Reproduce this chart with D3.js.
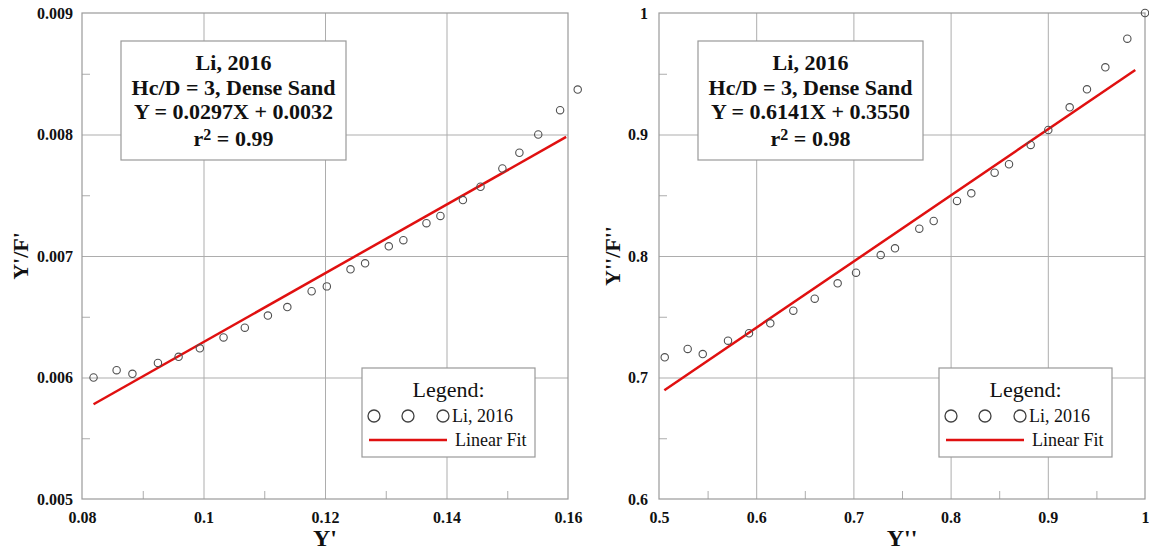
<!DOCTYPE html>
<html>
<head>
<meta charset="utf-8">
<script src="https://cdn.jsdelivr.net/npm/d3@7/dist/d3.min.js"></script>
<style>
body { margin: 0; background: #fff; }
text { font-family: "Liberation Serif", "Times New Roman", serif; fill: #111; }
</style>
</head>
<body>
<div id="vis"></div>
<script>
// left panel: Y' vs Y'/F'
const left_x = [0.0819, 0.0857, 0.0883, 0.0925, 0.0959, 0.0994, 0.1033, 0.1068, 0.1106, 0.1138,
                0.1178, 0.1203, 0.1242, 0.1266, 0.1305, 0.1329, 0.1367, 0.1390, 0.1427, 0.1456,
                0.1492, 0.1520, 0.1551, 0.1587, 0.1616];
const left_y = [0.00600, 0.00606, 0.00603, 0.00612, 0.00617, 0.00624, 0.00633, 0.00641, 0.00651, 0.00658,
                0.00671, 0.00675, 0.00689, 0.00694, 0.00708, 0.00713, 0.00727, 0.00733, 0.00746, 0.00757,
                0.00772, 0.00785, 0.00800, 0.00820, 0.00837];
const left_fit_x = [0.0819, 0.1597];
const left_fit_y = [0.00578, 0.00798];
const left_x_ticks = [0.08, 0.10, 0.12, 0.14, 0.16];
const left_x_labels = ["0.08", "0.1", "0.12", "0.14", "0.16"];
const left_y_ticks = [0.005, 0.006, 0.007, 0.008, 0.009];
const left_y_labels = ["0.005", "0.006", "0.007", "0.008", "0.009"];
const left_note = ["Li, 2016", "Hc/D = 3, Dense Sand", "Y = 0.0297X + 0.0032"];
const left_r2 = "0.99";

// right panel: Y'' vs Y''/F''
const right_x = [0.5059, 0.5295, 0.5450, 0.5710, 0.5926, 0.6145, 0.6382, 0.6602, 0.6838, 0.7027,
                 0.7281, 0.7428, 0.7678, 0.7826, 0.8066, 0.8213, 0.8453, 0.8601, 0.8824, 0.9005,
                 0.9225, 0.9403, 0.9592, 0.9818, 1.0000];
const right_y = [0.7166, 0.7235, 0.7193, 0.7303, 0.7364, 0.7446, 0.7550, 0.7649, 0.7775, 0.7863,
                 0.8008, 0.8063, 0.8225, 0.8288, 0.8453, 0.8516, 0.8686, 0.8755, 0.8914, 0.9037,
                 0.9224, 0.9372, 0.9553, 0.9789, 1.0000];
const right_fit_x = [0.5055, 0.9900];
const right_fit_y = [0.6895, 0.9531];
const right_x_ticks = [0.5, 0.6, 0.7, 0.8, 0.9, 1.0];
const right_x_labels = ["0.5", "0.6", "0.7", "0.8", "0.9", "1"];
const right_y_ticks = [0.6, 0.7, 0.8, 0.9, 1.0];
const right_y_labels = ["0.6", "0.7", "0.8", "0.9", "1"];
const right_note = ["Li, 2016", "Hc/D = 3, Dense Sand", "Y = 0.6141X + 0.3550"];
const right_r2 = "0.98";

const legend_labels = ["Li, 2016", "Linear Fit"];

const frame_width = 1149;
const frame_height = 552;
const size = 486;

const svg = d3.select("#vis")
    .append("svg")
        .attr("width", frame_width)
        .attr("height", frame_height);

function drawPanel(p) {
    const g = svg.append("g");
    const x_scale = d3.scaleLinear().domain(d3.extent(p.xt)).range([p.left, p.left + size]);
    const y_scale = d3.scaleLinear().domain(d3.extent(p.yt)).range([p.top + size, p.top]);
    const bottom = p.top + size;

    const mids = (t) => d3.pairs(t).map(([a, b]) => (a + b) / 2);

    // grid
    g.append("g")
        .attr("transform", "translate(0," + bottom + ")")
        .call(d3.axisBottom(x_scale).tickValues(p.xt.slice(1, -1)).tickSize(-size).tickFormat(""));
    g.append("g")
        .attr("transform", "translate(" + p.left + ",0)")
        .call(d3.axisLeft(y_scale).tickValues(p.yt.slice(1, -1)).tickSize(-size).tickFormat(""));
    // minor ticks, inward
    g.append("g")
        .attr("transform", "translate(0," + bottom + ")")
        .call(d3.axisBottom(x_scale).tickValues(mids(p.xt)).tickSize(-8).tickFormat(""));
    g.append("g")
        .attr("transform", "translate(" + p.left + ",0)")
        .call(d3.axisLeft(y_scale).tickValues(mids(p.yt)).tickSize(-8).tickFormat(""));
    g.selectAll(".domain").remove();
    g.selectAll(".tick line").attr("stroke", "#adadad").attr("stroke-width", 1);

    g.append("rect")
        .attr("x", p.left).attr("y", p.top)
        .attr("width", size).attr("height", size)
        .attr("fill", "none").attr("stroke", "#9a9a9a").attr("stroke-width", 1.2);

    // tick labels
    const xl = g.append("g")
        .attr("transform", "translate(0," + bottom + ")")
        .call(d3.axisBottom(x_scale).tickValues(p.xt).tickSize(0).tickPadding(13)
            .tickFormat((d, i) => p.xl[i]));
    const yl = g.append("g")
        .attr("transform", "translate(" + p.left + ",0)")
        .call(d3.axisLeft(y_scale).tickValues(p.yt).tickSize(0).tickPadding(p.ypad)
            .tickFormat((d, i) => p.yl[i]));
    [xl, yl].forEach((a) => {
        a.select(".domain").remove();
        a.attr("font-family", null).attr("font-size", null);
        a.selectAll("text").attr("font-size", "16px").attr("font-weight", "bold").attr("fill", "#111");
    });

    // axis titles
    g.append("text")
        .attr("x", p.left + size / 2).attr("y", 546)
        .attr("text-anchor", "middle")
        .attr("font-size", "24px").attr("font-weight", "bold")
        .text(p.xtitle);
    g.append("text")
        .attr("transform", "translate(" + (p.left - p.ytoff) + "," + (p.top + size / 2) + ") rotate(-90)")
        .attr("text-anchor", "middle").attr("dy", "0.35em")
        .attr("font-size", "22px").attr("font-weight", "bold")
        .text(p.ytitle);

    // fit line
    const line = d3.line()
        .x((d, i) => x_scale(p.fx[i]))
        .y((d) => y_scale(d));
    g.append("path")
        .datum(p.fy)
        .attr("d", line)
        .attr("fill", "none").attr("stroke", "#e01010").attr("stroke-width", 2.5);

    // points
    g.selectAll("circle.point")
        .data(p.px)
        .enter()
        .append("circle")
            .attr("class", "point")
            .attr("cx", (d) => x_scale(d))
            .attr("cy", (d, i) => y_scale(p.py[i]))
            .attr("r", 3.7)
            .attr("fill", "none").attr("stroke", "#505050").attr("stroke-width", 1.1);

    // note box
    const bx = p.left + 39, by = p.top + 28;
    g.append("rect")
        .attr("x", bx).attr("y", by).attr("width", 225).attr("height", 119)
        .attr("fill", "#fff").attr("stroke", "#999").attr("stroke-width", 1.2);
    const base = [29, 54, 78];
    p.note.forEach((s, i) => {
        g.append("text")
            .attr("x", bx + 112.5).attr("y", by + base[i])
            .attr("text-anchor", "middle")
            .attr("font-size", "22px").attr("font-weight", "bold")
            .text(s);
    });
    const r2 = g.append("text")
        .attr("x", bx + 112.5).attr("y", by + 105)
        .attr("text-anchor", "middle")
        .attr("font-size", "22px").attr("font-weight", "bold");
    r2.append("tspan").text("r");
    r2.append("tspan").attr("dy", -6).attr("font-size", "16px").text("2");
    r2.append("tspan").attr("dy", 6).text(" = " + p.r2);

    // legend
    const lx = p.left + 280, ly = p.top + 355;
    g.append("rect")
        .attr("x", lx).attr("y", ly).attr("width", 173).attr("height", 89)
        .attr("fill", "#fff").attr("stroke", "#999").attr("stroke-width", 1.2);
    g.append("text")
        .attr("x", lx + 86.5).attr("y", ly + 29)
        .attr("text-anchor", "middle").attr("font-size", "22px")
        .text("Legend:");
    g.selectAll("circle.leg")
        .data([12, 46, 81])
        .enter()
        .append("circle")
            .attr("class", "leg")
            .attr("cx", (d) => lx + d).attr("cy", ly + 48).attr("r", 6)
            .attr("fill", "none").attr("stroke", "#404040").attr("stroke-width", 1.3);
    g.append("text")
        .attr("x", lx + 90).attr("y", ly + 54)
        .attr("font-size", "18px")
        .text(legend_labels[0]);
    g.append("line")
        .attr("x1", lx + 7).attr("x2", lx + 85)
        .attr("y1", ly + 72).attr("y2", ly + 72)
        .attr("stroke", "#e01010").attr("stroke-width", 2.5);
    g.append("text")
        .attr("x", lx + 93).attr("y", ly + 78)
        .attr("font-size", "18px")
        .text(legend_labels[1]);
}

drawPanel({
    left: 82, top: 13,
    xt: left_x_ticks, xl: left_x_labels, yt: left_y_ticks, yl: left_y_labels,
    px: left_x, py: left_y, fx: left_fit_x, fy: left_fit_y,
    note: left_note, r2: left_r2,
    xtitle: "Y'", ytitle: "Y'/F'", ypad: 9, ytoff: 62
});

drawPanel({
    left: 659, top: 13,
    xt: right_x_ticks, xl: right_x_labels, yt: right_y_ticks, yl: right_y_labels,
    px: right_x, py: right_y, fx: right_fit_x, fy: right_fit_y,
    note: right_note, r2: right_r2,
    xtitle: "Y''", ytitle: "Y''/F''", ypad: 11, ytoff: 47
});
</script>
</body>
</html>
